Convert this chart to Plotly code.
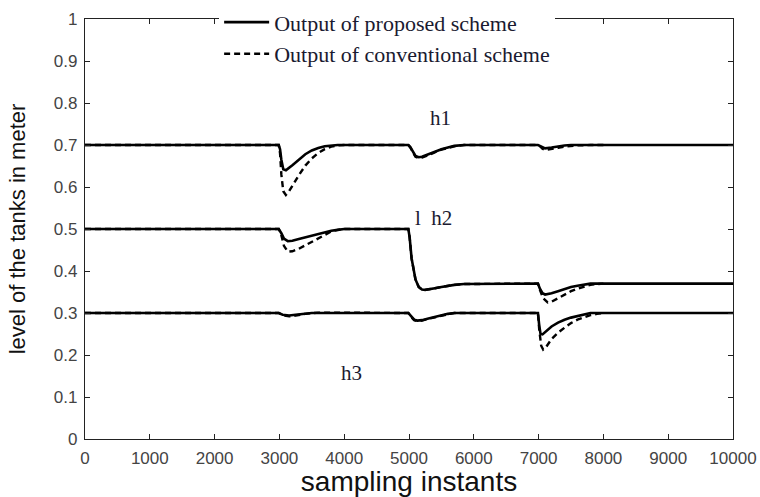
import plotly.graph_objects as go

# ---------------- data ----------------
h1_prop_x = [0, 2990, 3010, 3030, 3060, 3100, 3200, 3300, 3400, 3500, 3600, 3700, 3800, 3900, 4000,
             4990, 5020, 5060, 5100, 5150, 5200, 5300, 5400, 5500, 5600, 5700, 5850,
             6990, 7020, 7060, 7100, 7200, 7300, 7400, 7500, 7600, 10000]
h1_prop_y = [0.7, 0.7, 0.69, 0.665, 0.642, 0.64, 0.652, 0.666, 0.678, 0.687, 0.693, 0.697, 0.699, 0.7, 0.7,
             0.7, 0.695, 0.683, 0.674, 0.671, 0.672, 0.678, 0.684, 0.69, 0.694, 0.698, 0.7,
             0.7, 0.698, 0.694, 0.692, 0.694, 0.697, 0.699, 0.7, 0.7, 0.7]

h1_conv_x = [0, 2990, 3010, 3030, 3060, 3100, 3150, 3200, 3300, 3400, 3500, 3600, 3700, 3800, 3900, 4000,
             4990, 5020, 5060, 5100, 5150, 5200, 5300, 5400, 5500, 5600, 5700, 5850,
             6990, 7020, 7060, 7100, 7200, 7300, 7400, 7500, 7600, 7800, 8000]
h1_conv_y = [0.7, 0.7, 0.68, 0.63, 0.59, 0.581, 0.59, 0.603, 0.628, 0.651, 0.668, 0.681, 0.69, 0.696, 0.699, 0.7,
             0.7, 0.694, 0.681, 0.672, 0.669, 0.67, 0.676, 0.683, 0.689, 0.693, 0.697, 0.7,
             0.7, 0.697, 0.691, 0.688, 0.69, 0.693, 0.696, 0.698, 0.699, 0.7, 0.7]

h2_prop_x = [0, 2990, 3030, 3070, 3130, 3200, 3300, 3400, 3500, 3600, 3700, 3800, 3900, 4000,
             4990, 5010, 5040, 5070, 5100, 5150, 5200, 5250, 5300, 5400, 5500, 5600, 5700, 5850,
             6990, 7020, 7060, 7100, 7200, 7300, 7400, 7500, 7600, 7700, 7800, 10000]
h2_prop_y = [0.5, 0.5, 0.49, 0.477, 0.471, 0.472, 0.476, 0.48, 0.485, 0.489, 0.493, 0.496, 0.498, 0.5,
             0.5, 0.48, 0.43, 0.4, 0.38, 0.362, 0.356, 0.355, 0.356, 0.359, 0.362, 0.365, 0.367, 0.369,
             0.37, 0.358, 0.347, 0.344, 0.347, 0.352, 0.357, 0.362, 0.365, 0.368, 0.37, 0.37]

h2_conv_x = [0, 2990, 3030, 3070, 3130, 3200, 3300, 3400, 3500, 3600, 3700, 3800, 3900, 4000,
             4990, 5010, 5040, 5070, 5100, 5150, 5200, 5250, 5300, 5400, 5500, 5600, 5700, 5850,
             6990, 7020, 7070, 7140, 7200, 7300, 7400, 7500, 7600, 7700, 7800, 7900, 8000]
h2_conv_y = [0.5, 0.5, 0.485, 0.46, 0.446, 0.447, 0.453, 0.461, 0.47, 0.479, 0.487, 0.494, 0.498, 0.5,
             0.5, 0.48, 0.43, 0.4, 0.38, 0.362, 0.356, 0.355, 0.356, 0.359, 0.362, 0.365, 0.367, 0.369,
             0.37, 0.355, 0.335, 0.325, 0.327, 0.335, 0.344, 0.352, 0.358, 0.363, 0.367, 0.369, 0.37]

h3_prop_x = [0, 2990, 3050, 3150, 3250, 3400, 3500,
             4990, 5030, 5080, 5130, 5200, 5300, 5400, 5500, 5600, 5700,
             6990, 7010, 7030, 7060, 7100, 7200, 7300, 7400, 7500, 7600, 7700, 7800, 10000]
h3_prop_y = [0.3, 0.3, 0.296, 0.294, 0.296, 0.299, 0.3,
             0.3, 0.292, 0.284, 0.282, 0.283, 0.287, 0.291, 0.295, 0.298, 0.3,
             0.3, 0.27, 0.25, 0.249, 0.255, 0.268, 0.277, 0.284, 0.289, 0.293, 0.297, 0.3, 0.3]

h3_conv_x = [0, 2990, 3050, 3150, 3250, 3400, 3600, 3800, 4000,
             4990, 5030, 5080, 5130, 5200, 5300, 5400, 5500, 5600, 5700,
             6990, 7010, 7040, 7070, 7120, 7200, 7300, 7400, 7500, 7600, 7700, 7800, 7900, 8000]
h3_conv_y = [0.3, 0.3, 0.295, 0.292, 0.294, 0.298, 0.301, 0.301, 0.3,
             0.3, 0.291, 0.283, 0.281, 0.282, 0.286, 0.29, 0.294, 0.297, 0.3,
             0.3, 0.26, 0.222, 0.213, 0.22, 0.238, 0.253, 0.265, 0.276, 0.284, 0.29, 0.295, 0.298, 0.3]

x_ticks = [0, 1000, 2000, 3000, 4000, 5000, 6000, 7000, 8000, 9000, 10000]
y_ticks = [0, 0.1, 0.2, 0.3, 0.4, 0.5, 0.6, 0.7, 0.8, 0.9, 1]
y_tick_labels = ["0", "0.1", "0.2", "0.3", "0.4", "0.5", "0.6", "0.7", "0.8", "0.9", "1"]

legend_names = ["Output of proposed scheme", "Output of conventional scheme"]
tank_labels = ["h1", "l  h2", "h3"]
tank_label_x = [5480, 5380, 4120]
tank_label_y = [0.764, 0.527, 0.157]

# ---------------- figure ----------------
SERIF = "Liberation Serif, Times New Roman, serif"
SANS = "Liberation Sans, Arial, sans-serif"

fig = go.Figure()
series = [
    (h1_prop_x, h1_prop_y, h1_conv_x, h1_conv_y),
    (h2_prop_x, h2_prop_y, h2_conv_x, h2_conv_y),
    (h3_prop_x, h3_prop_y, h3_conv_x, h3_conv_y),
]
for i, (px, py, cx, cy) in enumerate(series):
    fig.add_trace(go.Scatter(x=cx, y=cy, mode="lines", name=legend_names[1],
                             legendgroup="conv", showlegend=(i == 0), legendrank=2,
                             line=dict(color="black", width=2.4, dash="6px,4px")))
    fig.add_trace(go.Scatter(x=px, y=py, mode="lines", name=legend_names[0],
                             legendgroup="prop", showlegend=(i == 0), legendrank=1,
                             line=dict(color="black", width=2.6)))

for t, xv, yv in zip(tank_labels, tank_label_x, tank_label_y):
    fig.add_annotation(x=xv, y=yv, text=t, showarrow=False,
                       font=dict(family=SERIF, size=21, color="#1a1a30"),
                       bgcolor="white")

axis_common = dict(showline=True, linecolor="#222", linewidth=1.3, mirror="ticks",
                   ticks="inside", ticklen=5, tickcolor="#222", tickwidth=1.2,
                   showgrid=False, zeroline=False, ticklabelstandoff=3,
                   tickfont=dict(family=SANS, size=17, color="#444"))

fig.update_layout(
    width=760, height=497,
    margin=dict(l=85, r=27, t=19, b=58, autoexpand=False),
    plot_bgcolor="white", paper_bgcolor="white",
    xaxis=dict(range=[0, 10000], tickvals=x_ticks, ticktext=[str(v) for v in x_ticks],
               title=dict(text="sampling instants", standoff=6,
                          font=dict(family=SANS, size=28, color="#111")),
               **axis_common),
    yaxis=dict(range=[0, 1], tickvals=y_ticks, ticktext=y_tick_labels,
               title=dict(text="level of the tanks in meter", standoff=22,
                          font=dict(family=SANS, size=22, color="#111")),
               **axis_common),
    legend=dict(x=0.207, y=1.042, xanchor="left", yanchor="top", bgcolor="white",
                borderwidth=0, itemwidth=45, tracegroupgap=0,
                font=dict(family=SERIF, size=22, color="#1a1a30")),
    showlegend=True,
)

fig.write_html("out.html")
